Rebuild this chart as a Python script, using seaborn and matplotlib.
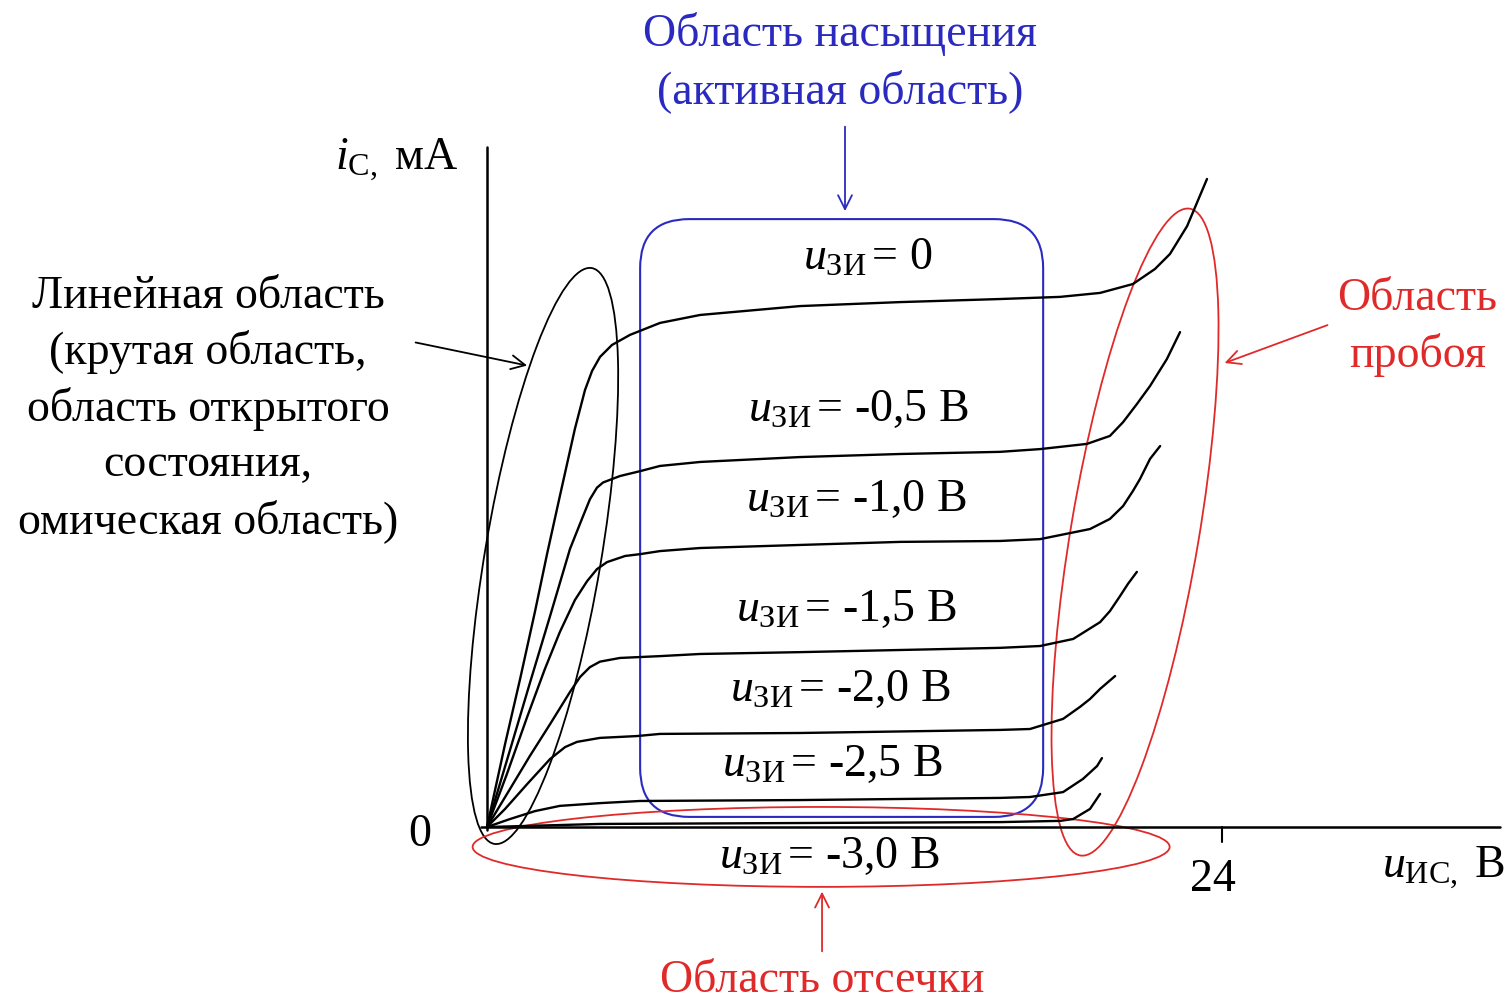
import numpy as np
import pandas as pd
import matplotlib
matplotlib.use('Agg')
import matplotlib.pyplot as plt
import seaborn as sns
from matplotlib.patches import Ellipse, FancyBboxPatch

# output characteristics of the JFET
# u_DS in V, i_C in mA (schematic, no scale on the i axis)
gate_labels = ['0', '-0,5', '-1,0', '-1,5', '-2,0', '-2,5', '-3,0']

u_g0 = [0, 0.59, 1.08, 1.57, 1.96, 2.38, 2.87, 3.20, 3.43, 3.69, 4.08, 4.67, 5.65, 6.96,
        10.22, 13.49, 16.75, 18.71, 20.02, 21.09, 21.81, 22.30, 22.86, 23.51]
i_g0 = [0, 2.71, 4.83, 7.05, 8.91, 10.81, 13.00, 14.27, 14.89, 15.35, 15.74, 16.07, 16.46, 16.72,
        17.01, 17.14, 17.24, 17.31, 17.44, 17.73, 18.22, 18.71, 19.62, 21.16]

u_g05 = [0, 0.75, 1.40, 2.06, 2.71, 3.10, 3.36, 3.59, 3.79, 4.34, 5.00, 5.65, 6.96,
         10.22, 13.49, 16.75, 18.06, 19.59, 20.34, 20.77, 21.22, 21.65, 22.20, 22.63]
i_g05 = [0, 2.51, 4.70, 6.89, 9.08, 10.06, 10.70, 11.08, 11.25, 11.46, 11.62, 11.79, 11.92,
         12.08, 12.18, 12.25, 12.34, 12.51, 12.77, 13.22, 13.81, 14.40, 15.28, 16.16]

u_g10 = [0, 0.65, 1.31, 1.89, 2.38, 2.87, 3.27, 3.59, 3.92, 4.51, 5.00, 5.65, 6.96,
         10.22, 13.49, 16.75, 18.06, 19.69, 20.34, 20.77, 21.09, 21.32, 21.65, 21.98]
i_g10 = [0, 1.73, 3.59, 5.16, 6.37, 7.41, 8.03, 8.42, 8.65, 8.85, 8.91, 9.01, 9.11,
         9.21, 9.31, 9.34, 9.40, 9.73, 10.06, 10.48, 10.97, 11.36, 12.02, 12.44]

u_g15 = [0, 0.75, 1.40, 2.06, 2.71, 3.04, 3.36, 3.69, 4.34, 5.00, 5.65, 6.96,
         10.22, 13.49, 16.75, 18.06, 19.14, 20.02, 20.34, 20.67, 20.93, 21.22]
i_g15 = [0, 1.24, 2.32, 3.36, 4.41, 4.90, 5.22, 5.40, 5.52, 5.55, 5.58, 5.65,
         5.71, 5.78, 5.85, 5.91, 6.14, 6.69, 7.05, 7.54, 7.94, 8.33]

u_g20 = [0, 0.59, 1.31, 2.06, 2.55, 2.94, 3.69, 4.90, 5.65, 10.22, 16.75, 17.73,
         18.81, 19.36, 19.69, 20.02, 20.51]
i_g20 = [0, 0.59, 1.40, 2.22, 2.61, 2.78, 2.91, 2.97, 3.04, 3.07, 3.17, 3.20,
         3.53, 3.92, 4.18, 4.51, 4.93]

u_g25 = [0, 0.75, 1.57, 2.38, 3.69, 5.00, 10.22, 16.75, 17.73, 18.81, 19.46, 19.92, 20.08]
i_g25 = [0, 0.26, 0.52, 0.69, 0.78, 0.85, 0.88, 0.95, 0.98, 1.14, 1.57, 1.99, 2.25]

u_g30 = [0, 3.69, 10.22, 16.75, 18.71, 19.14, 19.69, 20.02]
i_g30 = [0, 0.10, 0.13, 0.16, 0.20, 0.26, 0.59, 1.08]

# where the u_ZI labels sit
label_u = [12.44, 12.11, 12.05, 11.72, 11.53, 11.27, 11.17]
label_i = [18.61, 13.65, 10.71, 7.12, 4.51, 2.06, -0.95]

curves_u = [u_g0, u_g05, u_g10, u_g15, u_g20, u_g25, u_g30]
curves_i = [i_g0, i_g05, i_g10, i_g15, i_g20, i_g25, i_g30]

df = pd.concat([pd.DataFrame({'u': uu, 'i': ii, 'gate': g})
                for uu, ii, g in zip(curves_u, curves_i, gate_labels)], ignore_index=True)

sns.set_style('white')
plt.rcParams['font.family'] = ['Liberation Serif', 'DejaVu Serif']
plt.rcParams['mathtext.fontset'] = 'custom'
plt.rcParams['mathtext.rm'] = 'Liberation Serif'
plt.rcParams['mathtext.it'] = 'Liberation Serif:italic'
plt.rcParams['text.color'] = 'black'

BLUE = '#2a2ac0'
RED = '#e02a2a'
FS = 33
LS = 1.38

fig = plt.figure(figsize=(15.07, 10.03), dpi=100)
ax = fig.add_axes([0, 0, 1, 1])

sns.lineplot(data=df, x='u', y='i', hue='gate', palette=['black'] * 7, sort=False,
             estimator=None, legend=False, linewidth=1.7, ax=ax)

ax.set_xlim(-15.902, 33.306)
ax.set_ylim(-5.714, 27.037)
ax.set_aspect('equal')
ax.axis('off')

# axes drawn by hand
ax.plot([0, 0], [-0.1, 22.2], color='black', lw=1.8)
ax.plot([-0.2, 33.08], [0, 0], color='black', lw=1.8)
ax.plot([24, 24], [0, -0.49], color='black', lw=1.5)
ax.text(23.71, -1.70, '24', fontsize=FS, ha='center', va='center')
ax.text(-2.19, -0.23, '0', fontsize=FS, ha='center', va='center')
ax.text(-2.94, 21.81, r'$i_{\mathrm{C},}$ мА', fontsize=FS, ha='center', va='center')
ax.text(31.22, -1.31, r'$u_{\mathrm{ИС},}$ В', fontsize=FS, ha='center', va='center')

for g, lu, li in zip(gate_labels, label_u, label_i):
    unit = '' if g == '0' else ' В'
    ax.text(lu, li, r'$u_{\mathrm{ЗИ}}\,$= ' + g + unit, fontsize=FS,
            ha='center', va='center')

# linear region
ax.add_patch(Ellipse((1.83, 8.85), 3.79, 19.07, angle=-9.6, fill=False,
                     edgecolor='black', lw=1.3))
ax.annotate('', xy=(1.40, 15.05), xytext=(-2.42, 15.84),
            arrowprops=dict(arrowstyle='->', color='black', lw=1.3, mutation_scale=25))
ax.text(-9.11, 13.68, 'Линейная область\n(крутая область,\nобласть открытого\n'
        'состояния,\nомическая область)', fontsize=FS, ha='center', va='center',
        linespacing=LS)

# saturation region
ax.add_patch(FancyBboxPatch((5.0, 0.33), 13.16, 19.52,
                            boxstyle='round,pad=0,rounding_size=1.6',
                            fill=False, edgecolor=BLUE, lw=1.5))
ax.annotate('', xy=(11.69, 20.02), xytext=(11.69, 22.96),
            arrowprops=dict(arrowstyle='->', color=BLUE, lw=1.3, mutation_scale=25))
ax.text(11.53, 25.0, 'Область насыщения\n(активная область)', color=BLUE,
        fontsize=FS, ha='center', va='center', linespacing=LS)

# breakdown region
ax.add_patch(Ellipse((21.16, 9.63), 4.18, 21.42, angle=-9.6, fill=False,
                     edgecolor=RED, lw=1.3))
ax.annotate('', xy=(24.0, 15.12), xytext=(27.53, 16.42),
            arrowprops=dict(arrowstyle='->', color=RED, lw=1.3, mutation_scale=25))
ax.text(30.37, 16.36, 'Область\nпробоя', color=RED, fontsize=FS,
        ha='center', va='center', linespacing=LS)

# cutoff region
ax.add_patch(Ellipse((10.91, -0.65), 22.76, 2.61, fill=False, edgecolor=RED, lw=1.3))
ax.annotate('', xy=(10.94, -2.02), xytext=(10.94, -4.15),
            arrowprops=dict(arrowstyle='->', color=RED, lw=1.3, mutation_scale=25))
ax.text(10.94, -4.98, 'Область отсечки', color=RED, fontsize=FS,
        ha='center', va='center')

fig.savefig('out.png', dpi=100, facecolor='white')
